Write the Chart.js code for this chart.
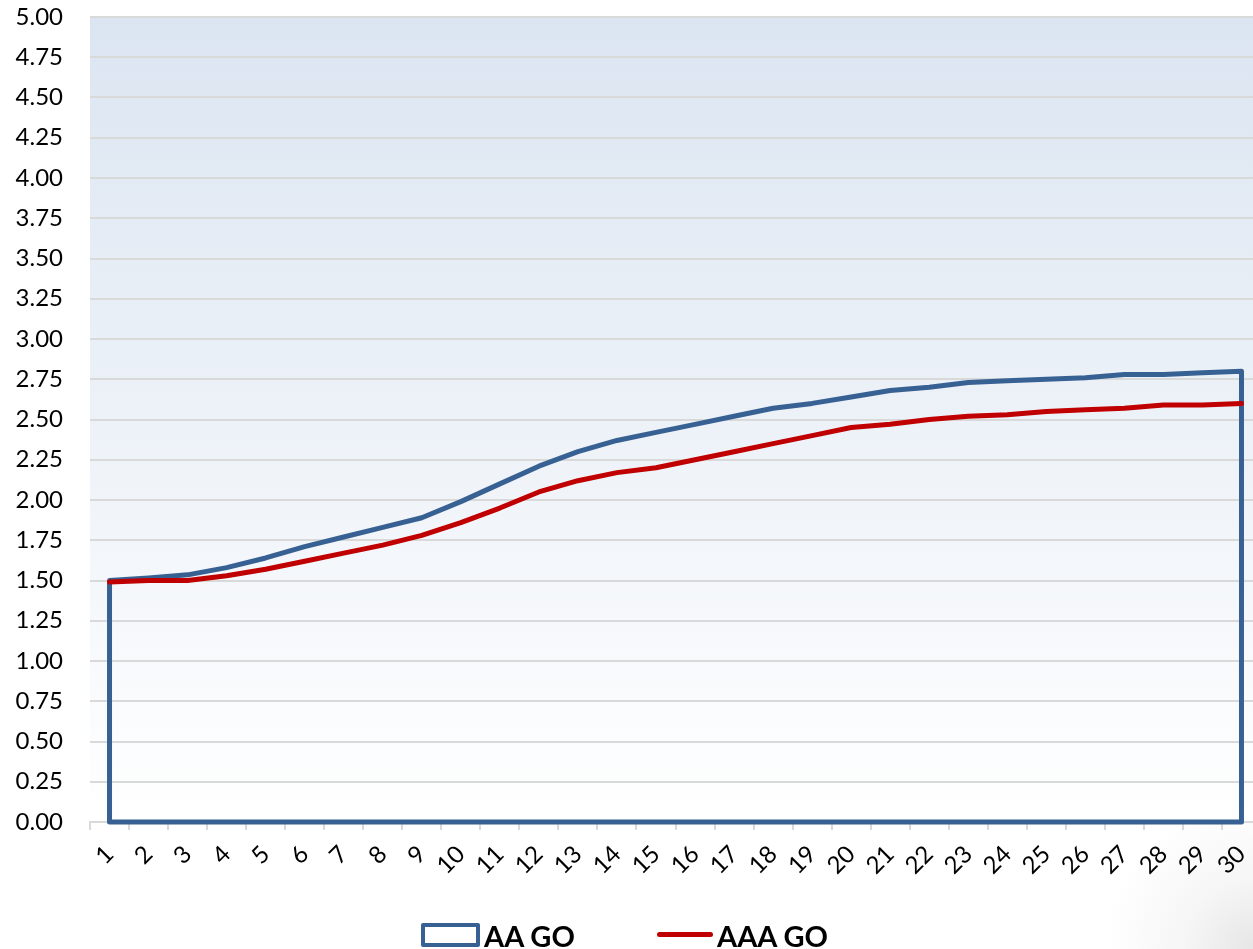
<!DOCTYPE html>
<html>
<head>
<meta charset="utf-8">
<script src="https://cdn.jsdelivr.net/npm/chart.js@4/dist/chart.umd.min.js"></script>
<style>
  html, body { margin: 0; padding: 0; overflow: hidden; }
  body {
    width: 1253px; height: 949px; position: relative;
    background: radial-gradient(circle at 1253px 949px, #e6e6e6 0px, #f6f6f6 70px, #ffffff 150px);
  }
  #wrap { position: absolute; left: 0; top: 0; width: 1261px; height: 949px; }
  .legend-item { position: absolute; font: bold 29px Lato, sans-serif; line-height: 29px; color: #000; white-space: nowrap; }
  .legend-box { position: absolute; box-sizing: border-box; border: 4px solid #386193; background: #fff; border-radius: 2px; }
  .legend-line { position: absolute; height: 5px; background: #c00000; border-radius: 3px; }
</style>
</head>
<body>
<div id="wrap"><canvas id="chart"></canvas></div>
<div id="legend"></div>
<script>
const categories = ['1','2','3','4','5','6','7','8','9','10','11','12','13','14','15',
                    '16','17','18','19','20','21','22','23','24','25','26','27','28','29','30'];
const aaGo = [1.50, 1.515, 1.535, 1.58, 1.64, 1.71, 1.77, 1.83, 1.89, 1.99,
              2.10, 2.21, 2.30, 2.37, 2.42, 2.47, 2.52, 2.57, 2.60, 2.64,
              2.68, 2.70, 2.73, 2.74, 2.75, 2.76, 2.78, 2.78, 2.79, 2.80];
const aaaGo = [1.49, 1.50, 1.50, 1.53, 1.57, 1.62, 1.67, 1.72, 1.78, 1.86,
               1.95, 2.05, 2.12, 2.17, 2.20, 2.25, 2.30, 2.35, 2.40, 2.45,
               2.47, 2.50, 2.52, 2.53, 2.55, 2.56, 2.57, 2.59, 2.59, 2.60];
const seriesNames = ['AA GO', 'AAA GO'];
const blue = '#386193';
const red = '#c00000';

// plot area gradient, light blue at top fading to white
const plotBackground = {
  id: 'plotBackground',
  beforeDraw(chart) {
    const {ctx, chartArea: a} = chart;
    const g = ctx.createLinearGradient(0, a.top, 0, a.bottom);
    g.addColorStop(0, '#dbe5f1');
    g.addColorStop(1, '#ffffff');
    ctx.save();
    ctx.fillStyle = g;
    ctx.fillRect(a.left, a.top, a.right - a.left, a.bottom - a.top);
    ctx.restore();
  }
};

// AA GO is an area series drawn as outline only (closed down to zero)
const areaOutline = {
  id: 'areaOutline',
  beforeDatasetsDraw(chart) {
    const pts = chart.getDatasetMeta(0).data;
    const y0 = chart.scales.y.getPixelForValue(0);
    const ctx = chart.ctx;
    ctx.save();
    ctx.beginPath();
    ctx.moveTo(pts[0].x, y0);
    pts.forEach(p => ctx.lineTo(p.x, p.y));
    ctx.lineTo(pts[pts.length - 1].x, y0);
    ctx.closePath();
    ctx.lineWidth = 5;
    ctx.strokeStyle = blue;
    ctx.lineJoin = 'round';
    ctx.stroke();
    ctx.restore();
  }
};

new Chart(document.getElementById('chart'), {
  type: 'line',
  data: {
    labels: categories,
    datasets: [
      { label: seriesNames[0], data: aaGo, borderColor: blue, showLine: false, pointRadius: 0 },
      { label: seriesNames[1], data: aaaGo, borderColor: red, borderWidth: 5,
        borderCapStyle: 'round', borderJoinStyle: 'round', pointRadius: 0, tension: 0, fill: false }
    ]
  },
  options: {
    responsive: true,
    maintainAspectRatio: false,
    animation: false,
    layout: { padding: 0 },
    plugins: { legend: { display: false }, tooltip: { enabled: false } },
    scales: {
      x: {
        offset: true,
        grid: { offset: true, drawOnChartArea: false, drawTicks: true, tickLength: 8, color: '#d9d9d9', lineWidth: 2 },
        border: { color: '#d9d9d9', width: 2 },
        ticks: { minRotation: 45, maxRotation: 45, autoSkip: false, padding: 10, color: '#000',
                 font: { family: 'Lato', size: 24 } },
        afterFit(s) { s.height = 127; s.paddingLeft = 0; s.paddingRight = 0; }
      },
      y: {
        min: 0, max: 5,
        grid: { color: '#d9d9d9', lineWidth: 2, drawTicks: false },
        border: { display: false },
        ticks: { stepSize: 0.25, padding: 27, color: '#000', font: { family: 'Lato', size: 24 },
                 callback: v => Number(v).toFixed(2) },
        afterFit(s) { s.width = 90; s.paddingTop = 17; s.paddingBottom = 0; }
      }
    }
  },
  plugins: [plotBackground, areaOutline]
});

// legend: area box for AA GO, line for AAA GO
const legend = document.getElementById('legend');
legend.innerHTML =
  '<div class="legend-box" style="left:421px;top:923px;width:59px;height:24px"></div>' +
  '<div class="legend-item" style="left:484px;top:921px">' + seriesNames[0] + '</div>' +
  '<div class="legend-line" style="left:657px;top:932px;width:56px"></div>' +
  '<div class="legend-item" style="left:717px;top:921px">' + seriesNames[1] + '</div>';
</script>
</body>
</html>
